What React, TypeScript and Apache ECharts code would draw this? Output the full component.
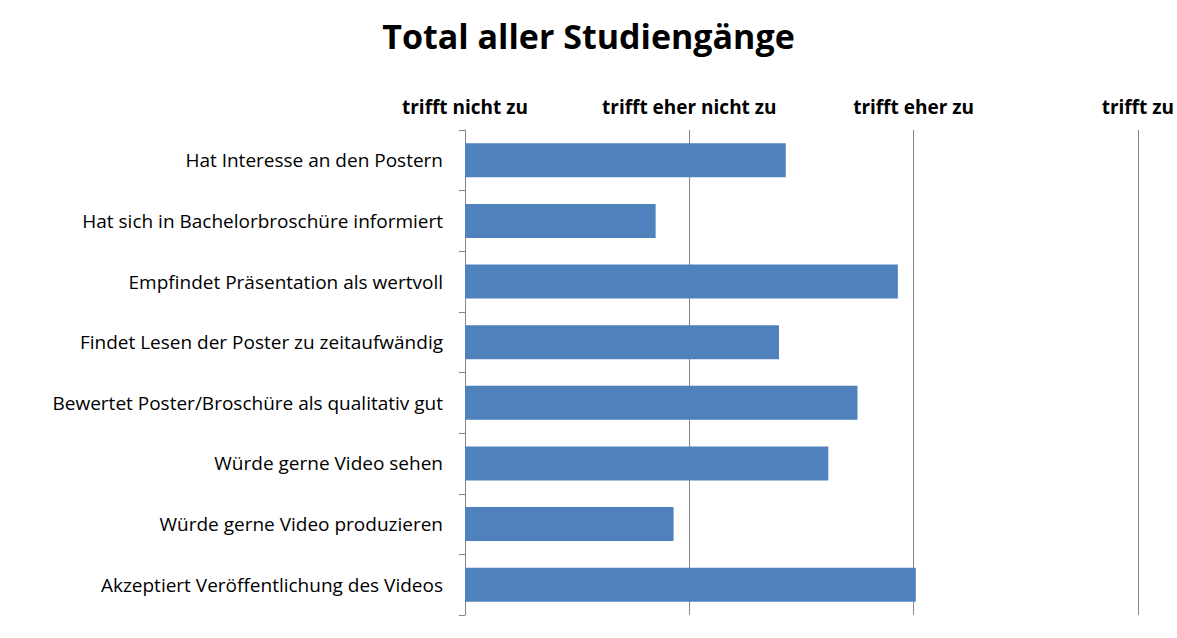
import { useEffect, useRef } from 'react'
import * as echarts from 'echarts'

const categories = [
  'Hat Interesse an den Postern',
  'Hat sich in Bachelorbroschüre informiert',
  'Empfindet Präsentation als wertvoll',
  'Findet Lesen der Poster zu zeitaufwändig',
  'Bewertet Poster/Broschüre als qualitativ gut',
  'Würde gerne Video sehen',
  'Würde gerne Video produzieren',
  'Akzeptiert Veröffentlichung des Videos'
]
const values = [2.43, 1.85, 2.93, 2.4, 2.75, 2.62, 1.93, 3.01]
const scaleLabels: Record<number, string> = {
  1: 'trifft nicht zu',
  2: 'trifft eher nicht zu',
  3: 'trifft eher zu',
  4: 'trifft zu'
}

export default function App() {
  const ref = useRef<HTMLDivElement | null>(null)

  useEffect(() => {
    if (!ref.current) return
    document.body.style.margin = '0'
    const chart = echarts.init(ref.current, null, { renderer: 'svg' })
    const font = 'Open Sans, sans-serif'
    chart.setOption({
      animation: false,
      backgroundColor: '#fff',
      title: {
        text: 'Total aller Studiengänge',
        left: 'center',
        top: 14,
        textStyle: { fontFamily: font, fontSize: 34, fontWeight: 'bold', color: '#000' }
      },
      grid: { left: 465, right: 22, top: 130, bottom: 23 },
      xAxis: {
        type: 'value',
        position: 'top',
        min: 1,
        max: 4,
        interval: 1,
        axisLine: { show: false },
        axisTick: { show: false },
        axisLabel: {
          color: '#000',
          fontFamily: font,
          fontSize: 19,
          fontWeight: 'bold',
          margin: 14,
          formatter: (v: number) => scaleLabels[v] ?? ''
        },
        splitLine: { lineStyle: { color: '#868686', width: 1 } }
      },
      yAxis: {
        type: 'category',
        data: categories,
        inverse: true,
        axisLine: { lineStyle: { color: '#868686' } },
        axisTick: { show: true, length: 6, lineStyle: { color: '#868686' } },
        axisLabel: { color: '#000', fontFamily: font, fontSize: 19, margin: 22 }
      },
      series: [
        {
          type: 'bar',
          data: values,
          barWidth: '56%',
          itemStyle: { color: '#4F81BD' }
        }
      ]
    })
    return () => chart.dispose()
  }, [])

  return <div ref={ref} style={{ width: 1177, height: 638 }} />
}
